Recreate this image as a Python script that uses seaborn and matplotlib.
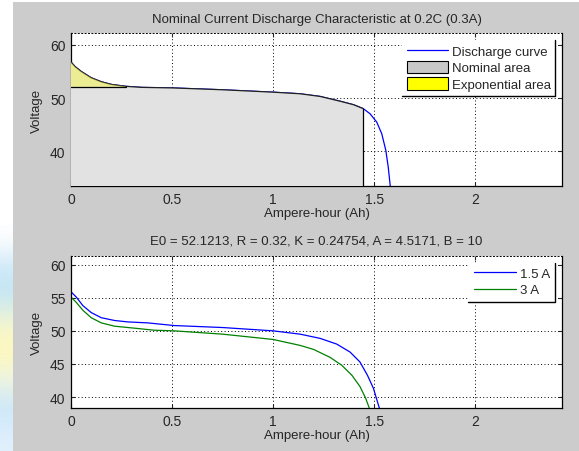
import numpy as np
import pandas as pd
import matplotlib
matplotlib.use("Agg")
import matplotlib.pyplot as plt
from matplotlib.lines import Line2D
from matplotlib.patches import Patch, Rectangle
import seaborn as sns

sns.set_style("white")
plt.rcParams['font.family'] = ['Liberation Sans', 'DejaVu Sans']

# nominal discharge curve at 0.3 A
ah_nom = [0.0, 0.02, 0.05, 0.10, 0.15, 0.20, 0.27, 0.35, 0.50, 0.75, 1.00, 1.134,
          1.233, 1.332, 1.398, 1.447, 1.48, 1.513, 1.538, 1.558, 1.57, 1.58]
v_nom = [56.75, 55.9, 55.0, 53.8, 53.05, 52.55, 52.2, 52.0, 51.9, 51.55, 51.1, 50.8,
         50.3, 49.4, 48.75, 48.0, 47.05, 45.5, 43.3, 40.2, 37.05, 33.5]
nominal_end = 1.447
exp_end = 0.27
exp_level = 52.1

# discharge curves at 1.5 A and 3 A
ah_15 = [0.0, 0.026, 0.059, 0.10, 0.15, 0.216, 0.28, 0.38, 0.51, 0.75, 1.0, 1.134,
         1.233, 1.315, 1.381, 1.43, 1.467, 1.497, 1.516, 1.526]
v_15 = [55.9, 55.1, 53.8, 52.76, 51.98, 51.56, 51.35, 51.2, 50.8, 50.5, 50.0, 49.5,
        48.86, 48.0, 46.8, 45.3, 43.3, 41.3, 39.35, 38.35]
ah_3 = [0.0, 0.026, 0.059, 0.10, 0.15, 0.216, 0.315, 0.41, 0.51, 0.75, 1.0, 1.134,
        1.2, 1.282, 1.34, 1.39, 1.43, 1.458, 1.476]
v_3 = [55.1, 54.3, 53.1, 51.98, 51.2, 50.7, 50.4, 50.1, 50.0, 49.5, 48.7, 47.8,
       47.2, 46.0, 44.8, 43.3, 41.6, 39.85, 38.35]

title_top = "Nominal Current Discharge Characteristic at 0.2C (0.3A)"
title_bot = "E0 = 52.1213, R = 0.32, K = 0.24754, A = 4.5171, B = 10"

fig = plt.figure(figsize=(5.79, 4.52), dpi=100, facecolor="white")

# grey figure area plus the pastel strip on the left edge of the screenshot
fig.patches.append(Rectangle((13 / 579, 0), 1, 1 - 3 / 452, transform=fig.transFigure,
                             facecolor="#cccccc", edgecolor="none", zorder=-10))
strip = fig.add_axes([0, 0, 13 / 579, 0.50], zorder=-5)
grad = np.array([[1.0, 1.0, 1.0], [0.80, 0.91, 0.97], [0.76, 0.90, 0.96], [0.97, 0.97, 0.82],
                 [1.0, 0.97, 0.72], [0.94, 0.96, 0.90], [0.78, 0.90, 0.98], [0.88, 0.94, 0.99]])
strip.imshow(grad[:, None, :], aspect="auto", interpolation="bicubic")
strip.set_axis_off()

ax1 = fig.add_axes([71 / 579, 1 - 187 / 452, 491 / 579, 153 / 452])
ax2 = fig.add_axes([71 / 579, 1 - 409 / 452, 491 / 579, 152 / 452])


def style_axes(ax, ylim, yticks):
    ax.set_xlim(0, 2.43)
    ax.set_ylim(*ylim)
    ax.set_xticks([0, 0.5, 1, 1.5, 2])
    ax.set_xticklabels(["0", "0.5", "1", "1.5", "2"])
    ax.set_yticks(yticks)
    ax.grid(True, color="black", linestyle=(0, (1, 2.5)), linewidth=0.7)
    ax.tick_params(direction="in", length=3, width=0.8, labelsize=10,
                   top=True, right=True, bottom=True, left=True, pad=4)
    for side in ["left", "bottom", "right"]:
        ax.spines[side].set_color("black")
        ax.spines[side].set_linewidth(0.9)
    ax.spines["top"].set_linestyle((0, (1, 2.5)))
    ax.spines["top"].set_color("black")
    ax.spines["top"].set_linewidth(0.7)
    ax.set_xlabel("Ampere-hour (Ah)", fontsize=9.5, labelpad=1)
    ax.set_ylabel("Voltage", fontsize=9.5, labelpad=5)
    ax.set_facecolor("white")


# top chart
df_nom = pd.DataFrame({"Ah": ah_nom, "V": v_nom})
sns.lineplot(data=df_nom, x="Ah", y="V", ax=ax1, color="#0000ff", linewidth=0.9,
             estimator=None, sort=False)
style_axes(ax1, (33.5, 62.2), [40, 50, 60])

nom = df_nom[df_nom["Ah"] <= nominal_end]
ax1.fill_between(nom["Ah"], 33.5, nom["V"], facecolor="#e2e2e2", edgecolor="none", zorder=3)
ax1.plot(nom["Ah"], nom["V"], color="#202020", linewidth=0.9, zorder=4)
ax1.plot([nominal_end, nominal_end], [33.5, nom["V"].iloc[-1]], color="black",
         linewidth=0.9, zorder=4)
ex = df_nom[df_nom["Ah"] <= exp_end]
ax1.fill_between(ex["Ah"], exp_level, ex["V"], facecolor="#ffff00", alpha=0.35,
                 edgecolor="none", zorder=4)
ax1.plot([0, exp_end], [exp_level, exp_level], color="black", linewidth=0.9, zorder=4)
ax1.set_title(title_top, fontsize=9.5, pad=8)

handles1 = [Line2D([], [], color="#0000ff", linewidth=0.9),
            Patch(facecolor="#c8c8c8", edgecolor="black", linewidth=0.8),
            Patch(facecolor="#ffff00", edgecolor="black", linewidth=0.8)]
leg1 = ax1.legend(handles1, ["Discharge curve", "Nominal area", "Exponential area"],
                  loc="upper right", fontsize=9.5, frameon=True, fancybox=False,
                  framealpha=1, edgecolor="white", borderaxespad=0.5,
                  handlelength=3.1, handleheight=1.1, handletextpad=0.3,
                  labelspacing=0.2, borderpad=0.35)

# bottom chart
df_cur = pd.concat([pd.DataFrame({"Ah": ah_15, "V": v_15, "Current": "1.5 A"}),
                    pd.DataFrame({"Ah": ah_3, "V": v_3, "Current": "3 A"})])
sns.lineplot(data=df_cur, x="Ah", y="V", hue="Current", ax=ax2,
             palette={"1.5 A": "#0000ff", "3 A": "#008000"}, linewidth=0.9,
             estimator=None, sort=False)
style_axes(ax2, (38.35, 61.3), [40, 45, 50, 55, 60])
ax2.set_title(title_bot, fontsize=9.5, pad=9)
leg2 = ax2.legend(loc="upper right", fontsize=9.5, frameon=True, fancybox=False,
                  framealpha=1, edgecolor="white", borderaxespad=0.5,
                  handlelength=3.2, handletextpad=0.3, labelspacing=0.3, borderpad=0.4)
for ln in leg2.get_lines():
    ln.set_linewidth(0.9)

# matlab-style legend frame: dark line on the right and bottom only
fig.canvas.draw()
for leg in (leg1, leg2):
    bb = leg.get_window_extent().transformed(fig.transFigure.inverted())
    fig.add_artist(Line2D([bb.x0, bb.x1, bb.x1], [bb.y0, bb.y0, bb.y1],
                          color="black", linewidth=1.0, transform=fig.transFigure))

fig.savefig("out.png", dpi=100, facecolor=fig.get_facecolor())
